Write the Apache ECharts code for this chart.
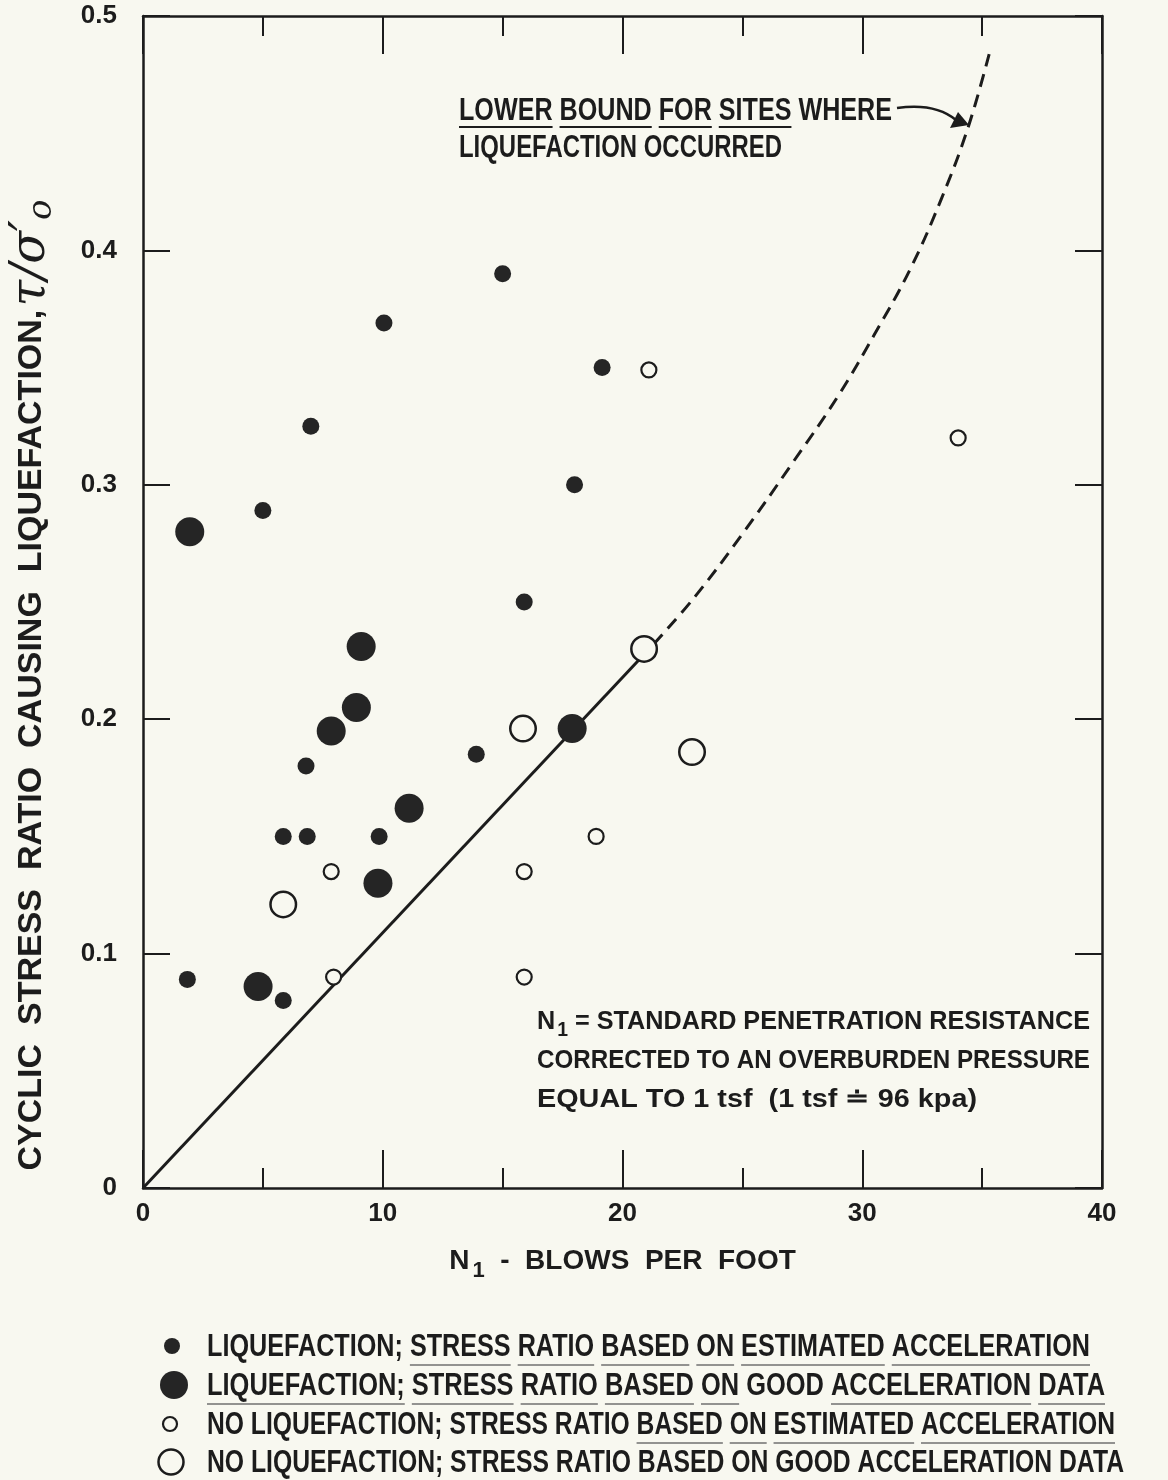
<!DOCTYPE html>
<html>
<head>
<meta charset="utf-8">
<script src="https://cdn.jsdelivr.net/npm/echarts@6/dist/echarts.min.js"></script>
<style>
  html, body { margin: 0; padding: 0; background: #f8f8f0; }
  #chart { width: 1168px; height: 1480px; }
</style>
</head>
<body>
<div id="chart"></div>
<script>
const INK = '#1c1c1c';
const DOT = '#252525';
const PAPER = '#f8f8f0';
const FONT = "'Liberation Sans', Arial, sans-serif";
const GREEK = "'DejaVu Serif', 'Liberation Serif', serif";

// Liquefaction; stress ratio based on estimated acceleration
const liqEstN   = [15.0, 10.05, 19.15, 7.0, 18.0, 5.0, 15.9, 13.9, 6.8, 5.85, 6.85, 9.85, 1.85, 5.85];
const liqEstCSR = [0.390, 0.369, 0.350, 0.325, 0.300, 0.289, 0.250, 0.185, 0.180, 0.150, 0.150, 0.150, 0.089, 0.080];

// Liquefaction; stress ratio based on good acceleration data
const liqGoodN   = [1.95, 9.1, 8.9, 7.85, 17.9, 11.1, 9.8, 4.8];
const liqGoodCSR = [0.280, 0.231, 0.205, 0.195, 0.196, 0.162, 0.130, 0.086];

// No liquefaction; stress ratio based on estimated acceleration
const noLiqEstN   = [21.1, 34.0, 18.9, 7.85, 15.9, 7.95, 15.9];
const noLiqEstCSR = [0.349, 0.320, 0.150, 0.135, 0.135, 0.090, 0.090];

// No liquefaction; stress ratio based on good acceleration data
const noLiqGoodN   = [20.9, 15.85, 22.9, 5.85];
const noLiqGoodCSR = [0.230, 0.196, 0.186, 0.121];

// Lower bound for sites where liquefaction occurred
const boundSolidN   = [0, 21.3];
const boundSolidCSR = [0, 0.232];
const boundDashN    = [21.3, 23, 25, 27, 29, 30.5, 32, 33.3, 34.4, 35.3];
const boundDashCSR  = [0.232, 0.252, 0.279, 0.308, 0.338, 0.364, 0.392, 0.422, 0.452, 0.484];

// Axis ticks
const xTicks = { min: 0, max: 40, step: 10 };
const yTicks = { min: 0, max: 0.5, step: 0.1 };

const legendNames = [
  'LIQUEFACTION; STRESS RATIO BASED ON ESTIMATED ACCELERATION',
  'LIQUEFACTION; STRESS RATIO BASED ON GOOD ACCELERATION DATA',
  'NO LIQUEFACTION; STRESS RATIO BASED ON ESTIMATED ACCELERATION',
  'NO LIQUEFACTION; STRESS RATIO BASED ON GOOD ACCELERATION DATA'
];

const pairs = (xs, ys) => xs.map((x, i) => [x, ys[i]]);

// ---- word-by-word text layout, condensed to a given span ----
const ctx = document.createElement('canvas').getContext('2d');
function mw(str, font) { ctx.font = font; return ctx.measureText(str).width; }

function layoutLine(cfg) {
  const weight = cfg.weight || 'bold';
  const f = sz => `${weight} ${sz}px ${FONT}`;
  const subSize = Math.round(cfg.size * 0.75);
  const words = cfg.text.split(' ');
  const widths = words.map(w => {
    const [base, sub] = w.split('_');
    return mw(base, f(cfg.size)) + (sub ? mw(sub, f(subSize)) + 2 : 0);
  });
  const space = mw(' ', f(cfg.size));
  const natural = widths.reduce((a, b) => a + b, 0) + space * (words.length - 1);
  const s = (cfg.x1 - cfg.x0) / natural;
  const out = [];
  let cursor = 0;
  words.forEach((w, i) => {
    const wx = cfg.x0 + s * cursor;
    const ww = s * widths[i];
    if (w.length) {
      const [base, sub] = w.split('_');
      out.push({
        type: 'text', x: wx, y: cfg.y, scaleX: s, silent: true,
        style: { text: base, x: 0, y: 0, font: f(cfg.size), fill: cfg.color || INK,
                 align: 'left', verticalAlign: 'middle' }
      });
      if (sub) {
        out.push({
          type: 'text', x: wx + s * (mw(base, f(cfg.size)) + 2), y: cfg.y + cfg.size * 0.32,
          scaleX: s, silent: true,
          style: { text: sub, x: 0, y: 0, font: f(subSize), fill: cfg.color || INK,
                   align: 'left', verticalAlign: 'middle' }
        });
      }
      if (cfg.underline && cfg.underline.includes(i)) {
        const uy = cfg.y + cfg.ulOffset;
        out.push({
          type: 'line', silent: true,
          shape: { x1: wx, y1: uy, x2: wx + ww, y2: uy },
          style: { stroke: cfg.ulColor || INK, lineWidth: cfg.ulWidth || 2 }
        });
      }
    }
    cursor += widths[i] + space;
  });
  return out;
}

const graphics = [];

// Lower-bound annotation with arrow
graphics.push(...layoutLine({ text: 'LOWER BOUND FOR SITES WHERE', x0: 459, x1: 892, y: 111, size: 31,
  underline: [0, 1, 2, 3], ulOffset: 16, ulWidth: 2 }));
graphics.push(...layoutLine({ text: 'LIQUEFACTION OCCURRED', x0: 459, x1: 782, y: 148, size: 31 }));
graphics.push({
  type: 'bezierCurve', silent: true,
  shape: { x1: 897, y1: 108, cpx1: 925, cpy1: 104, cpx2: 944, cpy2: 110, x2: 956, y2: 120 },
  style: { stroke: INK, lineWidth: 2.5, fill: null }
});
graphics.push({
  type: 'polygon', silent: true,
  shape: { points: [[969, 125], [958, 112], [950, 128]] },
  style: { fill: INK }
});

// Definition of N1
graphics.push(...layoutLine({ text: 'N_1 = STANDARD PENETRATION RESISTANCE', x0: 537, x1: 1090, y: 1022, size: 26 }));
graphics.push(...layoutLine({ text: 'CORRECTED TO AN OVERBURDEN PRESSURE', x0: 537, x1: 1090, y: 1061, size: 26 }));
graphics.push(...layoutLine({ text: 'EQUAL TO 1 tsf  (1 tsf \u2250 96 kpa)', x0: 537, x1: 977, y: 1100, size: 26 }));

// Legend
const legendRows = [
  { y: 1347, x1: 1090, marker: { cx: 172, r: 8, fill: DOT }, underline: [1, 2, 3, 4, 5, 6] },
  { y: 1386, x1: 1105, marker: { cx: 174, r: 14, fill: DOT }, underline: [0, 1, 2, 3, 4, 6, 7] },
  { y: 1425, x1: 1115, marker: { cx: 170, r: 7, fill: PAPER, stroke: INK, lw: 2.2 }, underline: [4, 5, 6, 7] },
  { y: 1463, x1: 1124, marker: { cx: 171, r: 12.5, fill: PAPER, stroke: INK, lw: 2.5 }, underline: [] }
];
legendRows.forEach((row, i) => {
  graphics.push({
    type: 'circle', silent: true,
    shape: { cx: row.marker.cx, cy: row.y - 1, r: row.marker.r },
    style: { fill: row.marker.fill, stroke: row.marker.stroke || null, lineWidth: row.marker.lw || 0 }
  });
  graphics.push(...layoutLine({ text: legendNames[i], x0: 207, x1: row.x1, y: row.y, size: 31,
    underline: row.underline, ulOffset: 18, ulWidth: 1.5, ulColor: '#707070' }));
});

const axisCommon = {
  type: 'value',
  axisLine: { show: true, onZero: false, lineStyle: { color: INK, width: 2.5 } },
  splitLine: { show: false }
};

const option = {
  backgroundColor: PAPER,
  animation: false,
  grid: { left: 143, right: 66, top: 16, bottom: 292, containLabel: false },
  xAxis: [
    Object.assign({}, axisCommon, {
      position: 'bottom', min: xTicks.min, max: xTicks.max, interval: xTicks.step,
      axisTick: { show: true, inside: true, length: 38, lineStyle: { color: INK, width: 2 } },
      minorTick: { show: true, splitNumber: 2, length: 20, lineStyle: { color: INK, width: 2 } },
      axisLabel: { color: INK, fontSize: 26, fontWeight: 'bold', fontFamily: FONT, margin: 13 },
      name: '{n|N}{s|1}{t|  -  BLOWS  PER  FOOT}',
      nameLocation: 'middle', nameGap: 52,
      nameTextStyle: {
        rich: {
          n: { fontSize: 28, fontWeight: 'bold', fontFamily: FONT, color: INK },
          s: { fontSize: 22, fontWeight: 'bold', fontFamily: FONT, color: INK, padding: [20, 0, 0, 3] },
          t: { fontSize: 28, fontWeight: 'bold', fontFamily: FONT, color: INK }
        }
      }
    }),
    Object.assign({}, axisCommon, {
      position: 'top', min: xTicks.min, max: xTicks.max, interval: xTicks.step,
      axisTick: { show: true, inside: true, length: 38, lineStyle: { color: INK, width: 2 } },
      minorTick: { show: true, splitNumber: 2, length: 20, lineStyle: { color: INK, width: 2 } },
      axisLabel: { show: false }
    })
  ],
  yAxis: [
    Object.assign({}, axisCommon, {
      position: 'left', min: yTicks.min, max: yTicks.max, interval: yTicks.step,
      axisTick: { show: true, inside: true, length: 27, lineStyle: { color: INK, width: 2 } },
      axisLabel: { color: INK, fontSize: 26, fontWeight: 'bold', fontFamily: FONT, margin: 26,
                   formatter: v => (v === 0 ? '0' : v.toFixed(1)) },
      name: '{a|CYCLIC  STRESS  RATIO  CAUSING  LIQUEFACTION,} {g|\u03c4/\u03c3\u2032}{o|o}',
      nameLocation: 'middle', nameRotate: 90, nameGap: 84,
      nameTextStyle: {
        padding: [0, 166, 0, 0],
        rich: {
          a: { fontSize: 34, fontWeight: 'bold', fontFamily: FONT, color: INK },
          g: { fontSize: 48, fontStyle: 'italic', fontFamily: GREEK, color: INK },
          o: { fontSize: 34, fontStyle: 'italic', fontFamily: GREEK, color: INK, padding: [20, 0, 0, 0] }
        }
      }
    }),
    Object.assign({}, axisCommon, {
      position: 'right', min: yTicks.min, max: yTicks.max, interval: yTicks.step,
      axisTick: { show: true, inside: true, length: 27, lineStyle: { color: INK, width: 2 } },
      axisLabel: { show: false }
    })
  ],
  series: [
    {
      name: 'Lower bound', type: 'line', data: pairs(boundSolidN, boundSolidCSR),
      symbol: 'none', lineStyle: { color: INK, width: 3 }, z: 1, silent: true
    },
    {
      name: 'Lower bound (extrapolated)', type: 'line', data: pairs(boundDashN, boundDashCSR),
      symbol: 'none', smooth: 0.4, lineStyle: { color: INK, width: 3, type: [13, 8] }, z: 1, silent: true
    },
    {
      name: legendNames[0], type: 'scatter', data: pairs(liqEstN, liqEstCSR),
      symbol: 'circle', symbolSize: 17, itemStyle: { color: DOT, opacity: 1 }, z: 3
    },
    {
      name: legendNames[1], type: 'scatter', data: pairs(liqGoodN, liqGoodCSR),
      symbol: 'circle', symbolSize: 29, itemStyle: { color: DOT, opacity: 1 }, z: 3
    },
    {
      name: legendNames[2], type: 'scatter', data: pairs(noLiqEstN, noLiqEstCSR),
      symbol: 'circle', symbolSize: 15, itemStyle: { color: PAPER, borderColor: INK, borderWidth: 2.2, opacity: 1 }, z: 3
    },
    {
      name: legendNames[3], type: 'scatter', data: pairs(noLiqGoodN, noLiqGoodCSR),
      symbol: 'circle', symbolSize: 25.5, itemStyle: { color: PAPER, borderColor: INK, borderWidth: 2.5, opacity: 1 }, z: 3
    }
  ],
  graphic: { elements: graphics }
};

const chart = echarts.init(document.getElementById('chart'), null, { renderer: 'canvas' });
chart.setOption(option);
</script>
</body>
</html>
